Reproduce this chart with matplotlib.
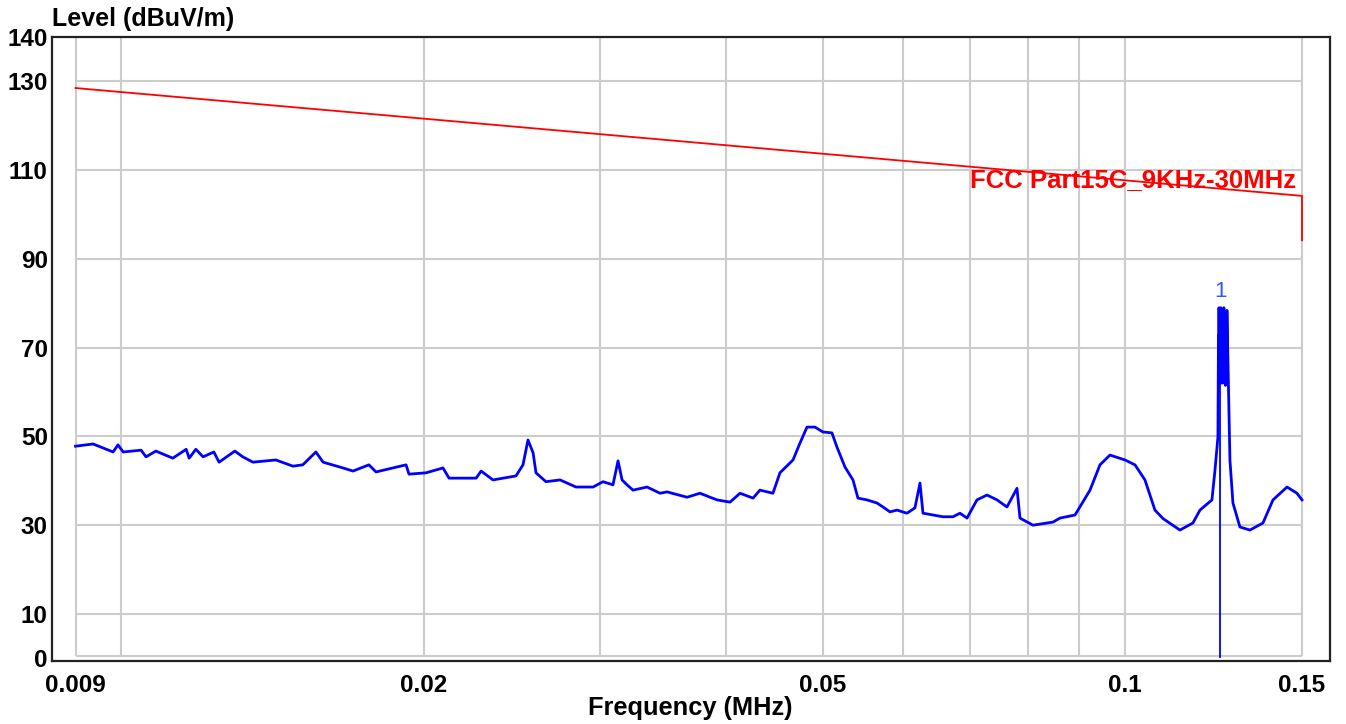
import matplotlib
matplotlib.use("Agg")
import matplotlib.pyplot as plt
from matplotlib.ticker import FixedLocator, FixedFormatter, NullLocator

plt.rcParams['font.family'] = ['Liberation Sans', 'DejaVu Sans']

# ---- data ----
freq_mhz = [
    0.00900, 0.00937, 0.00981, 0.00992, 0.01004, 0.01046, 0.01058, 0.01082,
    0.01125, 0.01160, 0.01168, 0.01186, 0.01206, 0.01236, 0.01251, 0.01297,
    0.01321, 0.01352, 0.01425, 0.01482, 0.01516, 0.01562, 0.01588, 0.01662,
    0.01701, 0.01764, 0.01793, 0.01921, 0.01934, 0.02011, 0.02091, 0.02120,
    0.02256, 0.02282, 0.02345, 0.02472, 0.02512, 0.02541, 0.02571, 0.02588,
    0.02648, 0.02735, 0.02837, 0.02950, 0.03018, 0.03088, 0.03124, 0.03153,
    0.03189, 0.03233, 0.03339, 0.03440, 0.03496, 0.03660, 0.03770, 0.03858,
    0.03921, 0.04039, 0.04133, 0.04258, 0.04326, 0.04457, 0.04529,
    0.04667, 0.04742, 0.04819, 0.04908, 0.04999, 0.05103, 0.05162, 0.05258,
    0.05355, 0.05417, 0.05530, 0.05658, 0.05737, 0.05829, 0.05924, 0.06061,
    0.06173, 0.06245, 0.06288, 0.06434, 0.06583, 0.06736, 0.06845, 0.06956,
    0.07117, 0.07283, 0.07452, 0.07624, 0.07801, 0.07855,
    0.08093, 0.08473, 0.08610, 0.08912, 0.09224, 0.09437, 0.09656, 0.09994,
    0.10226, 0.10463, 0.10706, 0.10904, 0.11337, 0.11680, 0.11870, 0.12201,
    0.12285, 0.12370, 0.12385, 0.12393, 0.12400, 0.12410, 0.12420, 0.12430,
    0.12440, 0.12455, 0.12465, 0.12475, 0.12490, 0.12500, 0.12513, 0.12525,
    0.12540, 0.12555, 0.12570, 0.12585, 0.12600, 0.12615, 0.12628, 0.12672,
    0.12715, 0.12803, 0.13010, 0.13312, 0.13716, 0.14035, 0.14493, 0.14829,
    0.15000,
]
level_dbuv = [
    47.8, 48.3, 46.5, 48.1, 46.5, 46.9, 45.4, 46.7,
    45.1, 47.1, 45.1, 47.1, 45.4, 46.5, 44.2, 46.7,
    45.4, 44.2, 44.7, 43.3, 43.6, 46.5, 44.2, 42.9,
    42.2, 43.6, 42.0, 43.6, 41.5, 41.8, 42.9, 40.6,
    40.6, 42.2, 40.2, 41.1, 43.6, 49.2, 46.3, 41.8,
    39.8, 40.2, 38.6, 38.6, 39.8, 39.1, 44.5, 40.2,
    39.1, 37.9, 38.6, 37.2, 37.5, 36.3, 37.2, 36.3,
    35.7, 35.2, 37.2, 36.1, 37.9, 37.2, 41.8,
    44.7, 48.5, 52.1, 52.1, 51.0, 50.8, 47.6, 43.1,
    40.2, 36.1, 35.7, 35.0, 34.1, 33.0, 33.4, 32.7,
    33.9, 39.5, 32.7, 32.3, 31.9, 31.9, 32.7, 31.6,
    35.7, 36.8, 35.7, 34.1, 38.3, 31.6,
    30.0, 30.7, 31.6, 32.3, 37.9, 43.6, 45.8, 44.7,
    43.6, 40.2, 33.4, 31.5, 28.9, 30.5, 33.4, 35.7,
    42.3, 49.9, 72.8, 62.0, 79.0, 63.0, 73.0, 62.0,
    72.8, 79.0, 63.0, 73.0, 62.0, 72.0, 65.0, 73.0,
    79.0, 62.0, 73.0, 61.5, 73.0, 62.0, 78.4, 61.1,
    44.7, 35.0, 29.6, 28.9, 30.5, 35.7, 38.6, 37.2,
    35.7,
]

limit_freq = [0.009, 0.15, 0.15]
limit_level = [128.5, 104.2, 94.2]
limit_name = "FCC Part15C_9KHz-30MHz"

marker_freq = 0.1243
marker_level = 79.0
marker_label = "1"

x_ticks = [0.009, 0.02, 0.05, 0.1, 0.15]
x_tick_labels = ["0.009", "0.02", "0.05", "0.1", "0.15"]
x_grid = [0.009, 0.01, 0.02, 0.03, 0.04, 0.05, 0.06, 0.07, 0.08, 0.09, 0.1, 0.15]
y_ticks = [0, 10, 30, 50, 70, 90, 110, 130, 140]
y_grid = [10, 30, 50, 70, 90, 110, 130]

# ---- figure ----
W, H = 1346, 724
fig = plt.figure(figsize=(W / 100, H / 100), dpi=100)
ax = fig.add_axes([52 / W, 1 - 661 / H, (1330 - 52) / W, (661 - 37) / H])
ax.set_xscale('log')
ax.set_xlim(0.008527, 0.15996)
ax.set_ylim(-0.6, 140)

grid_c = '#cccccc'
ax.hlines(y_grid + [0.5], x_grid[0], x_grid[-1], colors=grid_c, lw=1.5, zorder=1)
ax.vlines(x_grid, 0.5, 140, colors=grid_c, lw=1.5, zorder=1)

ax.plot(limit_freq, limit_level, color='#ff0000', lw=1.3, zorder=3)
ax.text(0.0700, 107.7, limit_name, color='#ff0000', fontsize=18.5,
        fontweight='bold', ha='left', va='center', zorder=4)

ax.plot(freq_mhz, level_dbuv, color='#0000ff', lw=2.0, zorder=3)
ax.vlines([marker_freq], 0, 62, colors='#0000ff', lw=1.3, zorder=3)
ax.text(marker_freq, 82.6, marker_label, color='#3555ff', fontsize=16,
        ha='center', va='center', zorder=4)

ax.xaxis.set_major_locator(FixedLocator(x_ticks))
ax.xaxis.set_major_formatter(FixedFormatter(x_tick_labels))
ax.xaxis.set_minor_locator(NullLocator())
ax.set_yticks(y_ticks)
ax.set_yticklabels([str(v) for v in y_ticks])
ax.tick_params(axis='both', length=0, labelsize=17.5)
ax.tick_params(axis='x', pad=9)
ax.tick_params(axis='y', pad=3)
for lab in ax.get_xticklabels() + ax.get_yticklabels():
    lab.set_fontweight('bold')

for s in ax.spines.values():
    s.set_linewidth(1.6)
    s.set_color('#222222')

fig.text(52 / W, 1 - 19 / H, "Level (dBuV/m)", fontsize=18, fontweight='bold',
         ha='left', va='center')
fig.text(690 / W, 1 - 708 / H, "Frequency (MHz)", fontsize=18.3, fontweight='bold',
         ha='center', va='center')

fig.savefig("out.png", dpi=100, facecolor='white')
